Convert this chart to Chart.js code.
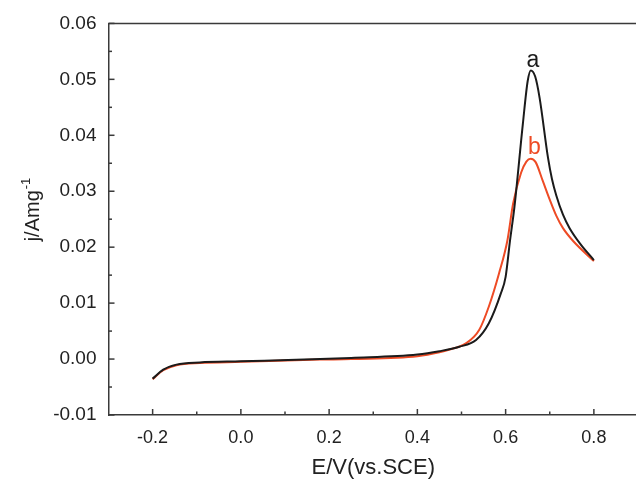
<!DOCTYPE html>
<html>
<head>
<meta charset="utf-8">
<script src="https://cdn.jsdelivr.net/npm/chart.js@4"></script>
<style>
  html, body { margin:0; padding:0; background:#fff; overflow:hidden; }
  #wrap { width:640px; height:481px; }
</style>
</head>
<body>
<div id="wrap"><canvas id="cv" width="640" height="481"></canvas></div>
<script>
// --- data ---
const potA = [-0.2, -0.176, -0.146, -0.093, 0.0, 0.18, 0.25, 0.4, 0.45, 0.495, 0.533, 0.562, 0.589, 0.6, 0.61, 0.62, 0.639, 0.65, 0.657, 0.667, 0.677, 0.696, 0.705, 0.715, 0.73, 0.745, 0.77, 0.8];
const curA = [-0.0035, -0.0019, -0.001, -0.0006, -0.0004, 0.0, 0.0002, 0.0008, 0.0014, 0.0022, 0.0034, 0.0064, 0.0117, 0.0147, 0.0212, 0.0272, 0.042, 0.0497, 0.0516, 0.0505, 0.0467, 0.036, 0.0322, 0.0292, 0.0258, 0.0234, 0.0205, 0.0177];
const potB = [-0.2, -0.176, -0.146, -0.093, 0.0, 0.18, 0.25, 0.4, 0.45, 0.473, 0.51, 0.54, 0.562, 0.585, 0.604, 0.617, 0.635, 0.647, 0.657, 0.668, 0.684, 0.7, 0.715, 0.73, 0.753, 0.8];
const curB = [-0.0036, -0.002, -0.0011, -0.0007, -0.0005, -0.0001, 0.0, 0.0005, 0.0012, 0.0017, 0.0028, 0.0052, 0.0094, 0.0153, 0.0212, 0.0278, 0.0333, 0.0353, 0.0358, 0.0352, 0.0319, 0.0285, 0.0256, 0.0234, 0.0211, 0.0175];
const xTicks = [-0.2, 0.0, 0.2, 0.4, 0.6, 0.8];
const yTicks = [-0.01, 0.00, 0.01, 0.02, 0.03, 0.04, 0.05, 0.06];
const xMinor = [-0.1, 0.1, 0.3, 0.5, 0.7];
const yMinor = [-0.005, 0.005, 0.015, 0.025, 0.035, 0.045, 0.055];
const curveLabels = ["a", "b"];

const BLACK = "#1b1b1b", RED = "#ee4b25", AXIS = "#3a3a3a";
const FONT = "'Liberation Sans', Arial, sans-serif";

function pts(xs, ys){ return xs.map((x,i)=>({x, y:ys[i]})); }

// inward ticks + curve tags + y title with superscript
const decor = {
  id:"decor",
  afterDraw(chart){
    const ctx = chart.ctx, a = chart.chartArea;
    const xs = chart.scales.x, ys = chart.scales.y;
    ctx.save();
    ctx.strokeStyle = AXIS; ctx.lineWidth = 1.5;
    // top border
    ctx.beginPath(); ctx.moveTo(a.left, a.top); ctx.lineTo(a.right, a.top); ctx.stroke();
    xTicks.forEach(v=>{ const p = xs.getPixelForValue(v); ctx.beginPath(); ctx.moveTo(p, a.bottom); ctx.lineTo(p, a.bottom-6); ctx.stroke(); });
    xMinor.forEach(v=>{ const p = xs.getPixelForValue(v); ctx.beginPath(); ctx.moveTo(p, a.bottom); ctx.lineTo(p, a.bottom-3.5); ctx.stroke(); });
    yTicks.forEach(v=>{ const p = ys.getPixelForValue(v); ctx.beginPath(); ctx.moveTo(a.left, p); ctx.lineTo(a.left+6, p); ctx.stroke(); });
    yMinor.forEach(v=>{ const p = ys.getPixelForValue(v); ctx.beginPath(); ctx.moveTo(a.left, p); ctx.lineTo(a.left+3.5, p); ctx.stroke(); });

    // curve tags above peaks
    ctx.font = "23px " + FONT;
    ctx.textAlign = "center"; ctx.textBaseline = "alphabetic";
    ctx.fillStyle = BLACK;
    ctx.fillText(curveLabels[0], xs.getPixelForValue(0.662), ys.getPixelForValue(0.0516) - 3);
    ctx.fillStyle = RED;
    ctx.fillText(curveLabels[1], xs.getPixelForValue(0.665), ys.getPixelForValue(0.0358) - 5);

    // y title
    ctx.translate(38.5, 210);
    ctx.rotate(-Math.PI/2);
    ctx.fillStyle = "#222";
    ctx.textAlign = "left";
    ctx.font = "20px " + FONT;
    const main = "j/Amg";
    const w = ctx.measureText(main).width;
    ctx.font = "13px " + FONT;
    const sw = ctx.measureText("-1").width;
    const x0 = -(w + sw)/2;
    ctx.font = "20px " + FONT;
    ctx.fillText(main, x0, 0);
    ctx.font = "13px " + FONT;
    ctx.fillText("-1", x0 + w + 1, -9);
    ctx.restore();
  }
};

new Chart(document.getElementById("cv"), {
  type: "scatter",
  data: {
    datasets: [
      { label: "a", data: pts(potA, curA), showLine: true, borderColor: BLACK, borderWidth: 2, pointRadius: 0, cubicInterpolationMode: "monotone" },
      { label: "b", data: pts(potB, curB), showLine: true, borderColor: RED, borderWidth: 2, pointRadius: 0, cubicInterpolationMode: "monotone" }
    ]
  },
  options: {
    responsive: false,
    animation: false,
    layout: { padding: { top: 22, right: 2, left: 0, bottom: 0 } },
    plugins: { legend: { display: false }, tooltip: { enabled: false } },
    scales: {
      x: {
        type: "linear", min: -0.3, max: 0.9,
        afterBuildTicks: s => { s.ticks = xTicks.map(v=>({value:v})); },
        afterFit: s => { s.height = 66; },
        grid: { display: false, drawTicks: false },
        border: { display: true, color: AXIS, width: 1.5 },
        ticks: { color: "#222", padding: 12, font: { family: FONT, size: 18 }, callback: v => v.toFixed(1) },
        title: { display: true, text: "E/V(vs.SCE)", color: "#222", font: { family: FONT, size: 22 }, padding: { top: 4, bottom: 0 } }
      },
      y: {
        type: "linear", min: -0.01, max: 0.06,
        afterBuildTicks: s => { s.ticks = yTicks.map(v=>({value:v})); },
        afterFit: s => { s.width = 108.5; },
        grid: { display: false, drawTicks: false },
        border: { display: true, color: AXIS, width: 1.5 },
        ticks: { color: "#222", padding: 12, font: { family: FONT, size: 19 }, callback: v => v.toFixed(2) }
      }
    }
  },
  plugins: [decor]
});
</script>
</body>
</html>
